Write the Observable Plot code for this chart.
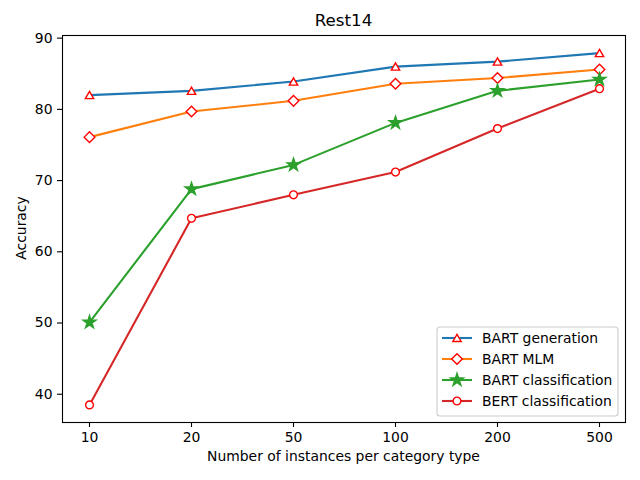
<!DOCTYPE html>
<html><head><meta charset="utf-8">
<script src="https://cdn.jsdelivr.net/npm/d3@7"></script>
<script src="https://cdn.jsdelivr.net/npm/@observablehq/plot@0.6"></script>
<style>
body{margin:0;background:#fff}
#fig{position:relative;width:640px;height:480px;font-family:"DejaVu Sans",sans-serif;color:#000;overflow:hidden}
#fig .t{position:absolute;white-space:nowrap}
</style></head><body><div id="fig"></div>
<script>
const categories = ["10","20","50","100","200","500"];
const seriesNames = ["BART generation","BART MLM","BART classification","BERT classification"];
const bartGeneration = [82.0,82.6,83.9,86.0,86.7,87.9];
const bartMLM = [76.1,79.7,81.2,83.6,84.4,85.6];
const bartClassification = [50.1,68.8,72.2,78.1,82.6,84.2];
const bertClassification = [38.5,64.7,68.0,71.2,77.3,82.9];
const yTicks = [40,50,60,70,80,90];
const title = "Rest14";
const xLabel = "Number of instances per category type";
const yLabel = "Accuracy";

const seriesValues = [bartGeneration, bartMLM, bartClassification, bertClassification];
const lineColors = ["#1f77b4","#ff7f0e","#2ca02c","#d62728"];
const symbols = ["triangle","diamond2","star","circle"];
const markerFill = ["white","white","#2ca02c","white"];
const markerStroke = ["red","red","#2ca02c","red"];
const markerR = [3.1,4.8,4.0,3.9];
const markerDy = [1.1,0,0,0];

const data = seriesNames.map((name, s) => categories.map((c, i) => ({series: name, x: c, y: seriesValues[s][i]})));

const marks = [Plot.frame({stroke:"black", strokeWidth:1.1})];
data.forEach((rows, s) => {
  marks.push(Plot.line(rows, {x:"x", y:"y", stroke: lineColors[s], strokeWidth:2.1}));
  marks.push(Plot.dot(rows, {x:"x", y:"y", symbol: () => symbols[s], r: markerR[s], dy: markerDy[s], fill: markerFill[s], stroke: markerStroke[s], strokeWidth:1.4}));
});
marks.push(Plot.axisX({tickSize:5, tickPadding:5, strokeWidth:1.1, label:null}));
marks.push(Plot.axisY({ticks: yTicks, tickSize:5, tickPadding:5, strokeWidth:1.1, label:null}));

const lo = d3.min(seriesValues.flat()), hi = d3.max(seriesValues.flat());
const pad = (hi - lo) * 0.05;

const chart = Plot.plot({
  width:640, height:480,
  marginLeft:62, marginRight:15, marginTop:35, marginBottom:58,
  style:{fontFamily:"DejaVu Sans", fontSize:"13.9px", color:"black", background:"white", overflow:"visible"},
  x:{type:"point", domain:categories, padding:0.25, label:null},
  y:{domain:[lo - pad, hi + pad], label:null},
  symbol:{type:"identity"},
  marks
});
const fig = document.getElementById("fig");
fig.appendChild(chart);

function addText(txt, css){ const d=document.createElement("div"); d.className="t"; d.textContent=txt; Object.assign(d.style, css); fig.appendChild(d); return d; }
addText(title, {left:"62px", width:"563px", textAlign:"center", top:"10px", fontSize:"16.7px"});
addText(xLabel, {left:"62px", width:"563px", textAlign:"center", top:"448px", fontSize:"13.9px"});
addText(yLabel, {left:"21px", top:"228px", fontSize:"13.9px", transform:"translate(-50%,-50%) rotate(-90deg)"});

// legend
const lg = d3.select(fig).append("svg").attr("width",184).attr("height",92)
  .style("position","absolute").style("left","436px").style("top","326px");
lg.append("rect").attr("x",1).attr("y",1).attr("width",181).attr("height",89).attr("rx",3)
  .attr("fill","white").attr("fill-opacity",0.8).attr("stroke","#cccccc").attr("stroke-width",1.1);
const symMap = {triangle:d3.symbolTriangle, diamond2:d3.symbolDiamond2, star:d3.symbolStar, circle:d3.symbolCircle};
seriesNames.forEach((name, s) => {
  const cy = 12 + s*21;
  lg.append("line").attr("x1",6).attr("x2",36).attr("y1",cy).attr("y2",cy).attr("stroke",lineColors[s]).attr("stroke-width",2.1);
  lg.append("path").attr("d", d3.symbol(symMap[symbols[s]], Math.PI*markerR[s]*markerR[s])())
    .attr("transform",`translate(21,${cy + markerDy[s]})`).attr("fill",markerFill[s]).attr("stroke",markerStroke[s]).attr("stroke-width",1.4);
  lg.append("text").attr("x",46).attr("y",cy).attr("dy","0.35em").attr("font-family","DejaVu Sans").attr("font-size","13.9px").text(name);
});
</script></body></html>
